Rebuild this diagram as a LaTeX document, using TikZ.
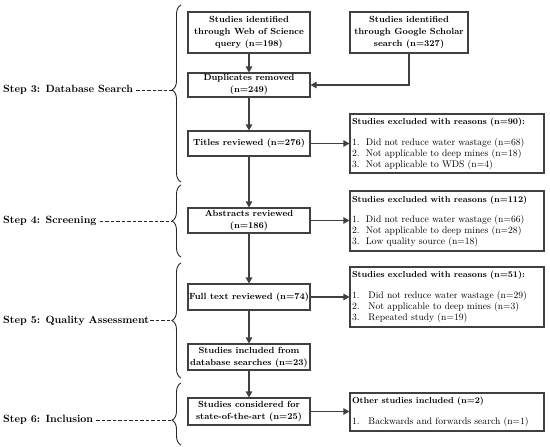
\documentclass[tikz,border=0pt]{standalone}
\usetikzlibrary{arrows.meta,decorations.pathreplacing}
\definecolor{lc}{RGB}{64,64,64}
\newcommand\exhead[1]{{\bfseries\fontsize{8.7}{11}\selectfont #1}}
\newcommand\exitem[3]{\makebox[#1][l]{#2.}#3}
\begin{document}
\begin{tikzpicture}[x=1pt,y=-1pt,
  mainbox/.style={draw=lc, line width=1.1pt, minimum width=122pt, align=center, inner sep=0pt, font=\bfseries\fontsize{8.9}{12}\selectfont},
  exbox/.style={draw=lc, line width=1.1pt, minimum width=194pt, text width=190pt, align=left, inner xsep=2pt, inner ysep=0pt, font=\fontsize{9.6}{11}\selectfont},
  arr/.style={draw=lc, line width=1.1pt, -{Triangle[length=6pt,width=6.5pt]}},
  steplabel/.style={anchor=west, inner sep=0pt, font=\bfseries\fontsize{10.5}{12}\selectfont},
  stepbrace/.style={draw=black!85, line width=0.9pt, decorate},
  dashline/.style={draw=black!85, line width=0.8pt, dash pattern=on 3.5pt off 2pt, shorten <=3pt}
]
\useasboundingbox (0,0) rectangle (550,447);

% main column
\node[mainbox, minimum height=41pt] (wos) at (249,32.5) {Studies identified\\through Web of Science\\query (n=198)};
\node[mainbox, minimum width=118pt, minimum height=41pt] (gs) at (409,32.5) {Studies identified\\through Google Scholar\\search (n=327)};
\node[mainbox, minimum height=24pt] (dup) at (249,85) {Duplicates removed\\(n=249)};
\node[mainbox, minimum height=25pt] (tit) at (249,143.5) {Titles reviewed (n=276)};
\node[mainbox, minimum height=25pt] (abs) at (249,220.5) {Abstracts reviewed\\(n=186)};
\node[mainbox, minimum height=26pt] (full) at (249,297) {Full text reviewed (n=74)};
\node[mainbox, minimum height=26pt] (incl) at (249,357) {Studies included from\\database searches (n=23)};
\node[mainbox, minimum height=27pt] (cons) at (249,411.5) {Studies considered for\\state-of-the-art (n=25)};

% right boxes
\node[exbox, minimum height=59pt] (ex1) at (447,143.5) {\exhead{Studies excluded with reasons (n=90):}\\[10pt]
  \exitem{14pt}{1}{Did not reduce water wastage (n=68)}\\
  \exitem{14pt}{2}{Not applicable to deep mines (n=18)}\\
  \exitem{14pt}{3}{Not applicable to WDS (n=4)}};
\node[exbox, minimum height=60pt] (ex2) at (447,221) {\exhead{Studies excluded with reasons (n=112)}\\[9pt]
  \exitem{14pt}{1}{Did not reduce water wastage (n=66)}\\
  \exitem{14pt}{2}{Not applicable to deep mines (n=28)}\\
  \exitem{14pt}{3}{Low quality source (n=18)}};
\node[exbox, minimum height=60pt] (ex3) at (447,297) {\exhead{Studies excluded with reasons (n=51):}\\[10pt]
  \exitem{16.5pt}{1}{Did not reduce water wastage (n=29)}\\
  \exitem{16.5pt}{2}{Not applicable to deep mines (n=3)}\\
  \exitem{16.5pt}{3}{Repeated study (n=19)}};
\node[exbox, minimum height=38pt] (ex4) at (447,412) {\exhead{Other studies included (n=2)}\\[10pt]
  \exitem{16.5pt}{1}{Backwards and forwards search (n=1)}};

% arrows
\draw[arr] (wos) -- (dup);
\draw[arr] (gs.south) |- (dup.east);
\draw[arr] (dup) -- (tit);
\draw[arr] (tit) -- (abs);
\draw[arr] (abs) -- (full);
\draw[arr] (full) -- (incl);
\draw[arr] (incl) -- (cons);
\draw[arr] (tit.east) -- (ex1.west |- tit.east);
\draw[arr] (abs.east) -- (ex2.west |- abs.east);
\draw[arr] (full.east) -- (ex3.west |- full.east);
\draw[arr] (cons.east) -- (ex4.west |- cons.east);

% braces
\draw[stepbrace, decoration={brace, amplitude=9pt, aspect=0.52}] (181,182) -- (181,5);
\draw[stepbrace, decoration={brace, amplitude=9pt, aspect=0.5}] (181,257) -- (181,185);
\draw[stepbrace, decoration={brace, amplitude=9pt, aspect=0.5}] (181,378) -- (181,263);
\draw[stepbrace, decoration={brace, amplitude=9pt, aspect=0.4}] (181,445) -- (181,383);
\coordinate (b3) at (172,90);
\coordinate (b4) at (172,221);
\coordinate (b5) at (172,320.5);
\coordinate (b6) at (172,420);

% step labels
\node[steplabel] (s3) at (3,90) {Step 3: Database Search};
\node[steplabel] (s4) at (3,221) {Step 4: Screening};
\node[steplabel] (s5) at (3,320.5) {Step 5: Quality Assessment};
\node[steplabel] (s6) at (3,420) {Step 6: Inclusion};
\draw[dashline] (s3.east) -- (b3);
\draw[dashline] (s4.east) -- (b4);
\draw[dashline, shorten <=1pt] (s5.east) -- (b5);
\draw[dashline] (s6.east) -- (b6);
\end{tikzpicture}
\end{document}
